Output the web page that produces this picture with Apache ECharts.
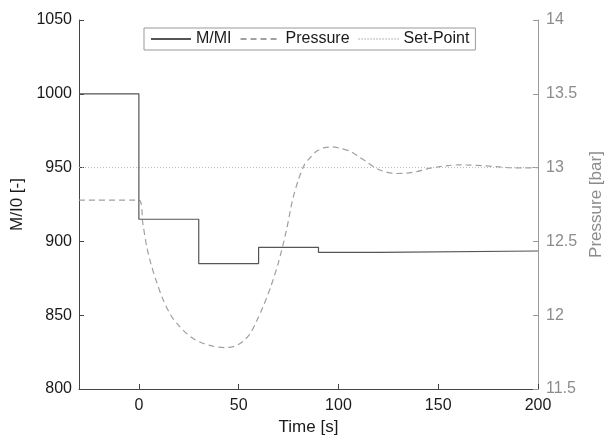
<!DOCTYPE html>
<html>
<head>
<meta charset="utf-8">
<script src="https://cdn.jsdelivr.net/npm/echarts@6/dist/echarts.min.js"></script>
<style>
html,body{margin:0;padding:0;background:#fff;}
#chart{width:606px;height:438px;}
</style>
</head>
<body>
<div id="chart"></div>
<script>
// M/MI step profile: [time s, value]
const massTime  = [-30, 0, 0, 30, 30, 60, 60, 90, 90, 120, 120, 200];
const massValue = [1000, 1000, 915, 915, 885, 885, 896, 896, 892.5, 892.5, 893.5, 893.5];

// Pressure response [bar]
const pressTime  = [-30, 0, 2, 4, 6, 9, 12, 16, 20, 24, 28, 32, 37, 43, 48, 52, 56, 59, 62, 66, 70, 74, 77, 80, 83, 86, 89, 93, 97, 101, 106, 110, 114, 119, 124, 129, 134, 139, 144, 150, 155, 160, 166, 172, 179, 186, 193, 200];
const pressValue = [12.78, 12.78, 12.62, 12.46, 12.35, 12.22, 12.11, 12.0, 11.93, 11.875, 11.835, 11.81, 11.79, 11.78, 11.79, 11.82, 11.88, 11.96, 12.05, 12.19, 12.36, 12.58, 12.78, 12.92, 13.02, 13.07, 13.11, 13.135, 13.14, 13.13, 13.11, 13.075, 13.04, 12.995, 12.97, 12.96, 12.962, 12.972, 12.99, 13.005, 13.014, 13.018, 13.017, 13.013, 13.006, 12.999, 12.998, 13.0];

// Set-point [bar]
const setTime  = [-30, 200];
const setValue = [13, 13];

const xTicks = [0, 50, 100, 150, 200];

const zip = (a, b) => a.map((v, i) => [v, b[i]]);
const font = 'Liberation Sans, Arial, sans-serif';
const dark = '#1a1a1a';
const grey = '#8c8c8c';
const plain = v => String(v);

const chart = echarts.init(document.getElementById('chart'));
chart.setOption({
  animation: false,
  backgroundColor: '#fff',
  grid: { left: 79, right: 68, top: 20, bottom: 49, containLabel: false, outerBoundsMode: 'none' },
  legend: {
    top: 28, left: 144,
    backgroundColor: '#fff',
    borderColor: '#999',
    borderWidth: 1,
    borderRadius: 0,
    padding: [3, 6, 3, 6],
    itemWidth: 40, itemHeight: 14, itemGap: 8,
    itemStyle: { opacity: 0 },
    textStyle: { fontFamily: font, fontSize: 16, color: dark },
    data: ['M/MI', 'Pressure', 'Set-Point']
  },
  xAxis: {
    type: 'value', min: -30, max: 200,
    name: 'Time [s]', nameLocation: 'middle', nameGap: 30,
    nameTextStyle: { fontFamily: font, fontSize: 17, color: dark },
    axisLine: { onZero: false, lineStyle: { color: '#444', width: 1 } },
    axisTick: { inside: true, length: 5, customValues: xTicks, lineStyle: { color: '#444' } },
    axisLabel: { customValues: xTicks, margin: 9, fontFamily: font, fontSize: 16, color: dark, formatter: plain },
    splitLine: { show: false }
  },
  yAxis: [
    {
      type: 'value', min: 800, max: 1050, interval: 50, position: 'left',
      name: 'M/I0 [-]', nameLocation: 'middle', nameGap: 50, nameRotate: 90,
      nameTextStyle: { fontFamily: font, fontSize: 17, color: dark },
      axisLine: { show: true, onZero: false, lineStyle: { color: '#444', width: 1 } },
      axisTick: { show: true, inside: true, length: 5, lineStyle: { color: '#444' } },
      axisLabel: { margin: 7, fontFamily: font, fontSize: 16, color: dark, formatter: plain },
      splitLine: { show: false }
    },
    {
      type: 'value', min: 11.5, max: 14, interval: 0.5, position: 'right',
      name: 'Pressure [bar]', nameLocation: 'middle', nameGap: 49, nameRotate: 90,
      nameTextStyle: { fontFamily: font, fontSize: 17, color: grey },
      axisLine: { show: true, onZero: false, lineStyle: { color: '#999', width: 1 } },
      axisTick: { show: true, inside: true, length: 5, lineStyle: { color: '#999' } },
      axisLabel: { margin: 8, fontFamily: font, fontSize: 16, color: grey, formatter: plain },
      splitLine: { show: false }
    }
  ],
  series: [
    {
      name: 'M/MI', type: 'line', yAxisIndex: 0, symbol: 'none',
      data: zip(massTime, massValue),
      lineStyle: { color: '#555', width: 1.2 },
      itemStyle: { color: '#555' },
      z: 3
    },
    {
      name: 'Pressure', type: 'line', yAxisIndex: 1, symbol: 'none', smooth: 0.3,
      data: zip(pressTime, pressValue),
      lineStyle: { color: '#a0a0a0', width: 1.2, type: [6, 4] },
      itemStyle: { color: '#a0a0a0' },
      z: 2
    },
    {
      name: 'Set-Point', type: 'line', yAxisIndex: 1, symbol: 'none',
      data: zip(setTime, setValue),
      lineStyle: { color: '#b8b8b8', width: 1, type: [1, 2] },
      itemStyle: { color: '#b8b8b8' },
      z: 1
    }
  ]
});
</script>
</body>
</html>
